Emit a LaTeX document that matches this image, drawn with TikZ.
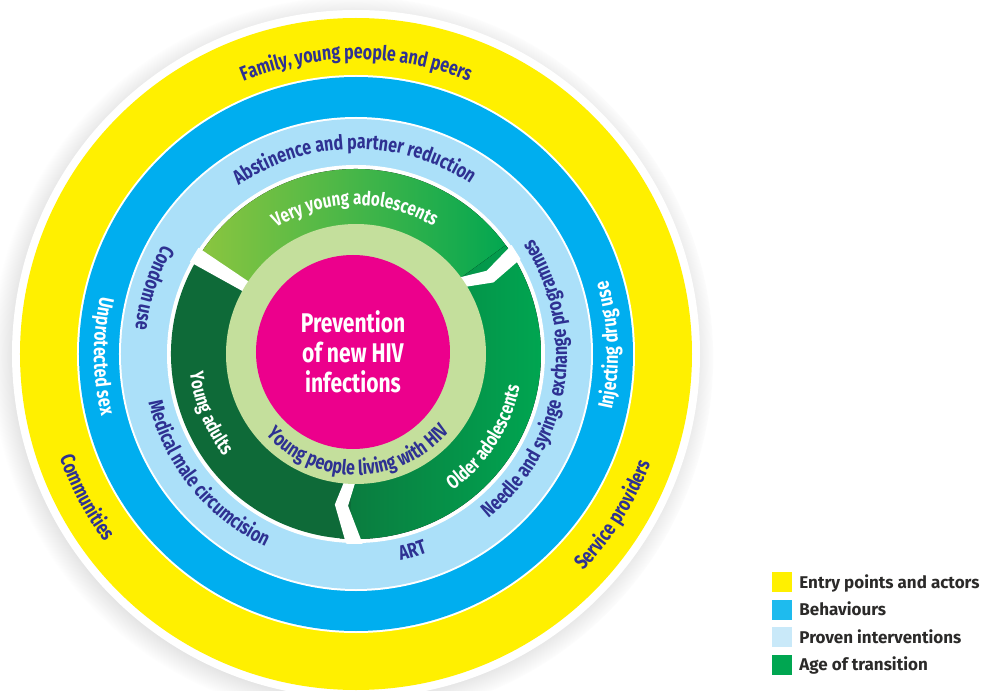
\documentclass[tikz,border=0pt]{standalone}
\usepackage{fontspec}
\usetikzlibrary{decorations.text,shadows,fadings,positioning}
\setmainfont{Fira Sans}
\newfontfamily\ringfont[FakeStretch=0.78]{Fira Sans}
\newfontfamily\keyfont{Fira Sans}

\definecolor{yellowring}{HTML}{FFF000}
\definecolor{bluering}{HTML}{00AEEF}
\definecolor{paleblue}{HTML}{ABE0F9}
\definecolor{leafgreen}{HTML}{8DC63F}
\definecolor{midgreen}{HTML}{00A651}
\definecolor{deepgreen}{HTML}{0B7A3E}
\definecolor{darkgreen}{HTML}{0E6A38}
\definecolor{palegreen}{HTML}{C4DF9C}
\definecolor{hivpink}{HTML}{EC008C}
\definecolor{navy}{HTML}{2E3192}
\definecolor{keygray}{HTML}{2B2A29}
\definecolor{keyblue}{HTML}{1EBBEE}
\definecolor{keypale}{HTML}{C9E9F9}

\newcommand{\navyfmt}{\ringfont\bfseries\fontsize{20.5}{20.5}\selectfont\color{navy}}
\newcommand{\whitefmt}{\ringfont\bfseries\fontsize{20.5}{20.5}\selectfont\color{white}}
\newcommand{\greenfmt}{\ringfont\bfseries\fontsize{19.5}{19.5}\selectfont\color{white}}

\tikzset{
  navyarc/.style={decorate, decoration={text along path, text align=center, text={|\navyfmt|#1}}},
  whitearc/.style={decorate, decoration={text along path, text align=center, text={|\whitefmt|#1}}},
  greenarc/.style={decorate, decoration={text along path, text align=center, text={|\greenfmt|#1}}},
  keybox/.style={rectangle, minimum size=20pt, inner sep=0pt},
  keytext/.style={anchor=west, inner sep=0pt, text height=12pt, text depth=0pt, text=keygray, font=\keyfont\bfseries\fontsize{17}{17}\selectfont}
}

\begin{document}
\begin{tikzpicture}[x=1pt, y=1pt, node distance = 27.5pt]
\useasboundingbox (-356,-337) rectangle (630,354);

\fill [white, circular drop shadow={shadow scale=1.05, shadow xshift=-3pt, shadow yshift=-3pt, opacity=.5}] (0,0) circle (344);
\fill [yellowring] (0,0) circle (336);
\fill [white] (0,0) circle (279);
\fill [bluering] (0,0) circle (277);
\fill [white] (0,0) circle (237);
\fill [paleblue] (0,0) circle (235);
\fill [white] (0,0) circle (189);

% age of transition
\fill [left color=leafgreen, right color=midgreen] (0,0) -- (33:185) arc[start angle=33, end angle=150, radius=185] -- cycle;
\fill [left color=deepgreen, right color=midgreen] (0,0) -- (-95:185) arc[start angle=-95, end angle=36, radius=185] -- cycle;
\fill [darkgreen] (0,0) -- (148:185) arc[start angle=148, end angle=268, radius=185] -- cycle;
\fill [white] (146:126) -- (146:190) -- (151:190) -- (151:126) -- cycle;
\fill [white] (265:126) -- (262:152) -- (267:190) -- (272:190) -- (267:152) -- (270:126) -- cycle;
\fill [white] (32:126) -- (27.5:155) -- (30:190) -- (35:190) -- (32.5:155) -- (37:126) -- cycle;

\fill [palegreen] (0,0) circle (130);
\node [circle, fill=hivpink, minimum size=194pt, inner sep=0pt] (hub) at (-3,2) {};
\node [align=center, text=white, font=\ringfont\bfseries\fontsize{27}{30}\selectfont] (prevention) at (hub) {Prevention\\of new HIV\\infections};

% entry points and actors
\path [navyarc={Family, young people and peers}] (130:295) arc[start angle=130, end angle=50, radius=295];
\path [navyarc={Communities}] (185:314) arc[start angle=185, end angle=231, radius=314];
\path [navyarc={Service providers}] (-60:314) arc[start angle=-60, end angle=-4, radius=314];

% behaviours
\path [whitearc={Unprotected sex}] (150:262) arc[start angle=150, end angle=211, radius=262];
\path [whitearc={Injecting drug use}] (-30:262) arc[start angle=-30, end angle=34, radius=262];

% proven interventions
\path [navyarc={Abstinence and partner reduction}] (145:205) arc[start angle=145, end angle=36, radius=205];
\path [navyarc={Condom use}] (140:222) arc[start angle=140, end angle=184, radius=222];
\path [navyarc={Medical male circumcision}] (178:213) arc[start angle=178, end angle=260, radius=213];
\path [navyarc={ART}] (266:211) arc[start angle=266, end angle=306, radius=211];
\path [navyarc={Needle and syringe exchange programmes}] (-68:211) arc[start angle=-68, end angle=50, radius=211];

% age rings
\path [greenarc={Very young adolescents}] (135:149) arc[start angle=135, end angle=46, radius=149];
\path [greenarc={Young adults}] (172:167) arc[start angle=172, end angle=232, radius=167];
\path [greenarc={Older adolescents}] (-82:167) arc[start angle=-82, end angle=16, radius=167];
\path [navyarc={Young people living with HIV}] (195:121) arc[start angle=195, end angle=347, radius=121];

% key
\node [keybox, fill=yellowring] (keyentry) at (426,-228) {};
\node [keybox, fill=keyblue, below of=keyentry] (keybehav) {};
\node [keybox, fill=keypale, below of=keybehav] (keyproven) {};
\node [keybox, fill=midgreen, below of=keyproven] (keyage) {};
\node [keytext, right=7pt of keyentry] (entrytext) {Entry points and actors};
\node [keytext, right=7pt of keybehav] (behavtext) {Behaviours};
\node [keytext, right=7pt of keyproven] (proventext) {Proven interventions};
\node [keytext, right=7pt of keyage] (agetext) {Age of transition};
\end{tikzpicture}
\end{document}
